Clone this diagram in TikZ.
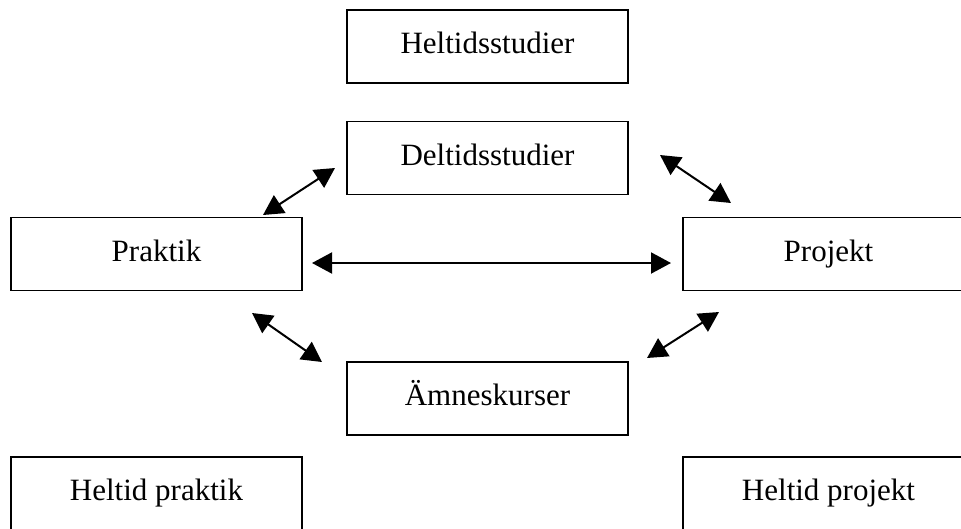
\documentclass[tikz,border=0pt]{standalone}
\usepackage{fontspec}
\setmainfont{Liberation Serif}
\usetikzlibrary{arrows.meta}
\begin{document}
\begin{tikzpicture}[x=1pt,y=-1pt,
  box/.style={draw, line width=1.5pt, rectangle, inner sep=0pt, minimum height=73pt,
    text height=21pt, text depth=7pt, font=\fontsize{31}{36}\selectfont},
  midbox/.style={box, minimum width=281pt},
  sidebox/.style={box, minimum width=291pt},
  link/.style={line width=2pt, {Triangle[length=20pt,width=21pt]}-{Triangle[length=20pt,width=21pt]}}]
\useasboundingbox (0,0) rectangle (961,528);
\node[midbox] (hs) at (487.5,46.5) {Heltidsstudier};
\node[midbox] (ds) at (487.5,158) {Deltidsstudier};
\node[sidebox] (prak) at (156.5,254) {Praktik};
\node[sidebox] (proj) at (828.5,254) {Projekt};
\node[midbox] (amn) at (487.5,398.5) {Ämneskurser};
\node[sidebox] (hprak) at (156.5,493.5) {Heltid praktik};
\node[sidebox] (hproj) at (828.5,493.5) {Heltid projekt};
\coordinate (a1) at (263,215);
\coordinate (a2) at (335,168);
\coordinate (b1) at (660,155);
\coordinate (b2) at (731,203);
\coordinate (c1) at (312,263);
\coordinate (c2) at (671,263);
\coordinate (d1) at (252,313);
\coordinate (d2) at (322,362);
\coordinate (e1) at (719,312);
\coordinate (e2) at (647,358);
\draw[link] (a1) -- (a2);
\draw[link] (b1) -- (b2);
\draw[link] (c1) -- (c2);
\draw[link] (d1) -- (d2);
\draw[link] (e1) -- (e2);
\end{tikzpicture}
\end{document}
